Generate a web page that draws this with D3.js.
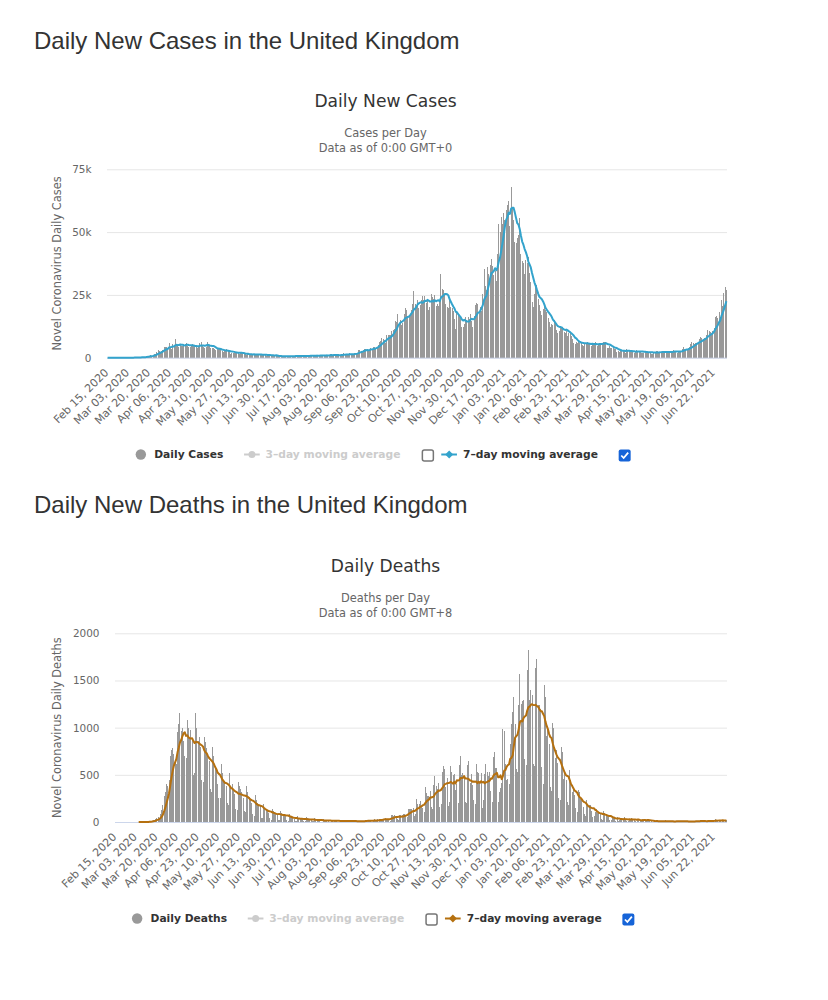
<!DOCTYPE html>
<html><head><meta charset="utf-8">
<script src="https://cdn.jsdelivr.net/npm/d3@7"></script>
<style>
body{margin:0;background:#fff;}
svg{display:block;}
</style></head><body>
<svg id="c" width="828" height="1000"></svg>
<script>
// ---------- DATA ----------
const startDate = [2020, 1, 15]; // Feb 15, 2020 (first category)
const tickLabels = ["Feb 15, 2020","Mar 03, 2020","Mar 20, 2020","Apr 06, 2020","Apr 23, 2020","May 10, 2020","May 27, 2020","Jun 13, 2020","Jun 30, 2020","Jul 17, 2020","Aug 03, 2020","Aug 20, 2020","Sep 06, 2020","Sep 23, 2020","Oct 10, 2020","Oct 27, 2020","Nov 13, 2020","Nov 30, 2020","Dec 17, 2020","Jan 03, 2021","Jan 20, 2021","Feb 06, 2021","Feb 23, 2021","Mar 12, 2021","Mar 29, 2021","Apr 15, 2021","May 02, 2021","May 19, 2021","Jun 05, 2021","Jun 22, 2021"];
const casesYTicks = [0, 25000, 50000, 75000];
const casesYLabels = ["0", "25k", "50k", "75k"];
const deathsYTicks = [0, 500, 1000, 1500, 2000];
const deathsYLabels = ["0", "500", "1000", "1500", "2000"];

const dailyCases = [
// Feb 15-29 2020
0,0,0,0,0,0,0,0,0,4,0,0,2,2,4,
// Mar 2020
12,4,11,34,29,48,43,67,48,52,83,134,208,342,251,152,407,676,643,714,1035,665,967,1427,1452,2129,2885,2546,2433,2619,3009,
// Apr 2020
4324,4244,4450,3735,5903,3802,3634,5491,4344,7500,5233,4676,4342,5252,4603,4617,5599,5525,5850,4676,4301,4451,4583,5386,4913,4463,4310,3996,4076,6032,
// May 2020
6201,4806,4339,3985,4406,6111,5614,4649,3896,3923,3877,3403,3242,3446,3560,3451,3142,2684,2412,2472,2615,3287,2959,2409,1625,2004,2013,1887,2095,2445,1936,
// Jun 2020
1570,1871,1805,1650,1557,1326,1205,1541,1003,1115,1541,1425,1514,1056,1279,1115,1218,1346,1295,1221,958,1221,874,653,1118,1380,890,901,815,689,
// Jul 2020
829,576,544,624,516,352,581,630,612,512,820,650,530,598,538,726,687,827,796,580,445,560,769,767,743,685,581,763,846,880,880,
// Aug 2020
744,742,938,670,892,950,871,758,1062,816,1148,812,1007,1441,1012,713,1089,1182,812,1033,1288,1041,853,1184,1715,1048,1522,1276,1108,1715,1406,
// Sep 2020
1295,1508,1735,1940,1813,2988,2948,2460,2659,2919,3539,3497,3330,2621,3105,3991,3395,4322,4422,3899,4368,4926,6178,6634,7800,7400,7200,6000,8900,9000,
// Oct 2020
8900,9000,10500,11000,11500,14542,14162,17540,13864,15166,12872,13972,17234,19724,18980,15650,16171,16982,18804,21331,26688,21242,20530,23012,19790,20890,22885,24701,23065,24405,21915,
// Nov 2020
23254,18950,20018,25177,24141,23287,24957,20572,21350,20412,22950,33470,27301,26860,24962,21363,20051,19609,22915,20252,19875,18662,15450,11299,18213,17555,16022,15871,12155,12330,
// Dec 2020
13430,16170,14879,16298,15539,17272,14718,12282,16578,20964,21672,21502,18447,20263,18450,25161,35383,28507,27052,35928,33364,36804,39237,36600,32725,34693,30501,41385,53135,50023,55892,
// Jan 2021
53285,57725,54990,58784,60916,62322,52618,68053,59937,54940,46169,45533,47525,48682,55761,41346,38598,37535,33355,38905,37892,40261,33552,30004,22195,20089,25308,28680,29079,23275,21088,
// Feb 2021
18607,16840,19202,20634,19114,18262,15845,14104,12364,13494,13013,15144,13308,10972,9765,10625,12718,12057,12027,10406,9834,10641,8489,9938,9985,8523,7434,6035,
// Mar 2021
5455,6391,5766,6573,6040,6040,5177,4712,5766,5926,6353,5534,5534,4618,5089,5294,5758,6303,4802,5587,5312,5342,5379,6397,6397,6187,3862,3862,4654,4052,4052,
// Apr 2021
4478,3402,3423,2297,2762,2379,2763,3030,2766,3150,1730,3568,2472,2491,2672,2596,2206,1882,2524,2963,2396,2729,2678,2026,1712,2064,2685,2166,2381,2445,
// May 2021
1907,1671,1649,1946,2343,2613,2490,2047,1770,2357,2474,2284,2657,2193,2027,1926,2240,2412,2696,2874,2829,2235,1979,2439,2493,2613,3542,4182,3398,3240,3383,
// Jun 2021
3165,4093,5274,6238,5765,5341,5683,6048,6058,7393,8125,7738,7490,7742,7673,9055,11007,10476,10321,9284,10633,11625,16135,16703,15810,18270,14876,22868,20479,25606,
// Jul 2021
27989,27125
];

const dailyDeaths = [
// Feb 15-29 2020
null,null,null,null,null,null,null,null,null,null,null,null,null,null,null,
// Mar 2020
null,null,null,null,1,1,0,1,1,1,2,2,1,11,1,14,20,16,33,40,50,45,80,130,180,280,320,400,380,450,700,
// Apr 2020
760,780,720,640,620,950,1040,1150,960,1000,860,700,680,1080,1000,900,980,880,500,520,1160,1000,860,900,800,450,420,900,850,780,
// May 2020
700,650,350,320,800,700,560,540,400,250,250,620,520,450,420,380,200,180,520,380,400,330,300,140,130,420,380,350,320,250,120,
// Jun 2020
110,380,320,260,230,200,80,60,290,230,200,180,180,40,40,190,150,140,130,100,40,20,140,120,110,90,80,25,20,120,
// Jul 2020
100,90,80,60,20,15,80,60,55,45,35,12,10,60,45,40,35,30,10,8,50,40,30,25,20,8,6,40,30,25,20,
// Aug 2020
15,5,5,30,20,18,15,12,4,4,25,18,15,12,10,3,4,20,15,12,10,8,3,3,18,15,12,10,8,2,2,
// Sep 2020
15,12,10,12,8,2,3,25,20,15,18,9,5,9,27,20,21,27,27,18,11,37,37,40,34,34,17,13,71,71,
// Oct 2020
66,77,49,33,19,76,70,77,87,81,65,50,143,137,138,136,150,67,80,241,191,189,224,174,151,102,367,310,280,274,326,
// Nov 2020
162,136,397,492,378,355,413,156,194,532,595,563,376,462,168,213,598,529,501,511,341,398,206,608,696,498,521,479,215,205,
// Dec 2020
603,648,414,504,397,231,189,616,533,516,424,519,144,232,506,612,532,489,534,326,215,691,744,570,570,210,316,357,414,981,964,
// Jan 2021
613,445,454,407,830,1041,1162,1325,1035,563,529,1243,1564,1248,1280,1295,671,599,1610,1820,1290,1401,1348,610,592,1631,1725,1239,1245,1200,587,
// Feb 2021
406,1449,1322,915,1014,828,373,333,1052,1001,678,758,621,258,230,799,738,454,533,445,215,178,548,442,323,345,290,144,
// Mar 2021
104,343,315,242,236,158,82,65,231,190,175,181,121,52,64,110,141,95,101,96,33,17,112,98,70,63,58,19,23,56,43,
// Apr 2021
51,10,58,10,26,20,45,23,52,34,7,13,23,30,40,36,32,10,4,33,22,16,18,32,17,11,17,29,17,15,
// May 2021
15,1,1,4,13,16,13,9,4,4,5,11,17,11,7,4,1,7,5,9,12,10,6,1,5,10,10,12,7,6,0,
// Jun 2021
0,3,12,11,12,8,4,4,13,7,19,11,8,4,3,9,19,19,11,14,6,5,27,21,18,18,15,3,22,14,
// Jul 2021
22,18
];

// ---------- CHART ----------
const fmt = d3.utcFormat("%b %d, %Y");
const start = new Date(Date.UTC(startDate[0], startDate[1], startDate[2]));
const categories = dailyCases.map((_, i) => fmt(d3.utcDay.offset(start, i)));

function movingAverage(arr, n) {
  return arr.map((v, i) => {
    if (v == null) return null;
    const w = arr.slice(Math.max(0, i - n + 1), i + 1).filter(d => d != null);
    return w.length ? d3.mean(w) : null;
  });
}

const svg = d3.select("#c");
const FONT = "'DejaVu Sans', Verdana, sans-serif";

function drawChart(cfg) {
  const g = svg.append("g");
  // page heading
  g.append("text").attr("x", 34).attr("y", cfg.headingY)
    .style("font-family", "'Liberation Sans', Arial, sans-serif").style("font-size", "24px")
    .attr("fill", "#333").text(cfg.heading);
  // titles
  g.append("text").attr("x", 385.5).attr("y", cfg.titleY).attr("text-anchor", "middle")
    .style("font-family", FONT).style("font-size", "17.1px").attr("fill", "#333").text(cfg.title);
  g.append("text").attr("x", 385.5).attr("y", cfg.titleY + 29.2).attr("text-anchor", "middle")
    .style("font-family", FONT).style("font-size", "11.4px").attr("fill", "#666").text(cfg.sub1);
  g.append("text").attr("x", 385.5).attr("y", cfg.titleY + 44.3).attr("text-anchor", "middle")
    .style("font-family", FONT).style("font-size", "11.4px").attr("fill", "#666").text(cfg.sub2);

  const x = d3.scaleBand().domain(categories).range([cfg.left, cfg.right]).padding(0);
  const bw = x.bandwidth();
  const y = d3.scaleLinear().domain([0, cfg.yTicks[cfg.yTicks.length - 1]]).range([cfg.bottom, cfg.top]);

  // grid + y labels
  const yAxis = d3.axisLeft(y).tickValues(cfg.yTicks).tickSize(-(cfg.right - cfg.left))
    .tickPadding(15.5).tickFormat((d, i) => cfg.yLabels[i]);
  const ya = g.append("g").attr("transform", `translate(${cfg.left},0)`).call(yAxis);
  ya.select(".domain").remove();
  ya.selectAll("line").attr("stroke", "#e6e6e6");
  ya.selectAll("text").style("font-family", FONT).style("font-size", "10.45px").attr("fill", "#666");

  // y title
  g.append("text").attr("transform", `translate(57,${(cfg.top + cfg.bottom) / 2}) rotate(-90)`)
    .attr("text-anchor", "middle").attr("dy", "0.35em")
    .style("font-family", FONT).style("font-size", "11.4px").attr("fill", "#666").text(cfg.yTitle);

  // bars
  const pts = cfg.values.map((v, i) => ({ c: categories[i], v }));
  g.append("g").attr("shape-rendering", "crispEdges").selectAll("rect")
    .data(pts.filter(d => d.v != null && d.v > 0)).join("rect")
    .attr("x", d => Math.round(x(d.c) + bw / 2 - 0.5)).attr("width", 1)
    .attr("y", d => y(d.v)).attr("height", d => y(0) - y(d.v))
    .attr("fill", "#999");

  // x axis line
  g.append("line").attr("x1", cfg.left).attr("x2", cfg.right).attr("y1", cfg.bottom + 0.5).attr("y2", cfg.bottom + 0.5)
    .attr("stroke", "#ccd6eb").attr("stroke-width", 1);

  // moving average line
  const ma = movingAverage(cfg.values, 7);
  const line = d3.line().defined(d => d != null)
    .x((d, i) => x(categories[i]) + bw / 2).y(d => y(d));
  g.append("path").datum(ma).attr("d", line).attr("fill", "none")
    .attr("stroke", cfg.color).attr("stroke-width", 2).attr("stroke-linejoin", "round");

  // x axis labels
  const xAxis = d3.axisBottom(x).tickValues(tickLabels).tickSize(0);
  const xa = g.append("g").attr("transform", `translate(0,${cfg.bottom})`).call(xAxis);
  xa.select(".domain").remove();
  xa.selectAll("text").attr("x", 0).attr("y", 0).attr("dy", null)
    .attr("text-anchor", "end").attr("transform", "translate(1.5,15.5) rotate(-45)")
    .style("font-family", FONT).style("font-size", "11px").attr("fill", "#666");

  // legend
  const lg = g.append("g");
  const cy = cfg.legendY;
  const lfs = "10.7px";
  function measure(t) {
    const tt = lg.append("text").style("font-family", FONT).style("font-size", lfs).style("font-weight", "bold").text(t);
    const w = tt.node().getComputedTextLength(); tt.remove(); return w;
  }
  const t1 = cfg.barName, t2 = "3\u2013day moving average", t3 = "7\u2013day moving average";
  const w1 = measure(t1), w2 = measure(t2), w3 = measure(t3);
  const total = 18.4 + w1 + 20.7 + 21.5 + w2 + 21.4 + 11.5 + 7.9 + 21.8 + w3 + 20.7 + 11.5;
  let L = 383 - total / 2;
  const base = cy + 3.9;
  const lt = (xx, t, col) => lg.append("text").attr("x", xx).attr("y", base)
    .style("font-family", FONT).style("font-size", lfs).style("font-weight", "bold").attr("fill", col).text(t);
  lg.append("circle").attr("cx", L + 5).attr("cy", cy).attr("r", 5.2).attr("fill", "#999");
  let xx = L + 18.4; lt(xx, t1, "#333"); xx += w1 + 20.7;
  lg.append("line").attr("x1", xx).attr("x2", xx + 15.7).attr("y1", cy).attr("y2", cy).attr("stroke", "#ccc").attr("stroke-width", 2);
  lg.append("circle").attr("cx", xx + 7.9).attr("cy", cy).attr("r", 3.5).attr("fill", "#ccc");
  xx += 21.5; lt(xx, t2, "#ccc"); xx += w2 + 21.4;
  lg.append("rect").attr("x", xx + 0.5).attr("y", cy - 4.5).attr("width", 11).attr("height", 11).attr("rx", 2)
    .attr("fill", "#fff").attr("stroke", "#767676").attr("stroke-width", 1.5);
  xx += 11.5 + 7.9;
  lg.append("line").attr("x1", xx).attr("x2", xx + 15.7).attr("y1", cy).attr("y2", cy).attr("stroke", cfg.color).attr("stroke-width", 2);
  lg.append("path").attr("d", `M${xx + 7.9},${cy - 4}L${xx + 11.9},${cy}L${xx + 7.9},${cy + 4}L${xx + 3.9},${cy}Z`).attr("fill", cfg.color);
  xx += 21.8; lt(xx, t3, "#333"); xx += w3 + 20.7;
  lg.append("rect").attr("x", xx).attr("y", cy - 5).attr("width", 12).attr("height", 12).attr("rx", 2).attr("fill", "#1664d8");
  lg.append("path").attr("d", `M${xx + 2.6},${cy + 1}L${xx + 5},${cy + 3.5}L${xx + 9.5},${cy - 1.8}`)
    .attr("fill", "none").attr("stroke", "#fff").attr("stroke-width", 1.8);
}

drawChart({
  heading: "Daily New Cases in the United Kingdom", headingY: 49,
  title: "Daily New Cases", titleY: 107.4, sub1: "Cases per Day", sub2: "Data as of 0:00 GMT+0",
  left: 107, right: 727, top: 169.3, bottom: 357.7,
  yTicks: casesYTicks, yLabels: casesYLabels, yTitle: "Novel Coronavirus Daily Cases",
  values: dailyCases, color: "#33a3cc", barName: "Daily Cases", legendY: 454.5
});
drawChart({
  heading: "Daily New Deaths in the United Kingdom", headingY: 513,
  title: "Daily Deaths", titleY: 572.4, sub1: "Deaths per Day", sub2: "Data as of 0:00 GMT+8",
  left: 115, right: 727, top: 633.3, bottom: 822,
  yTicks: deathsYTicks, yLabels: deathsYLabels, yTitle: "Novel Coronavirus Daily Deaths",
  values: dailyDeaths, color: "#b5700f", barName: "Daily Deaths", legendY: 918.5
});
</script>
</body></html>
